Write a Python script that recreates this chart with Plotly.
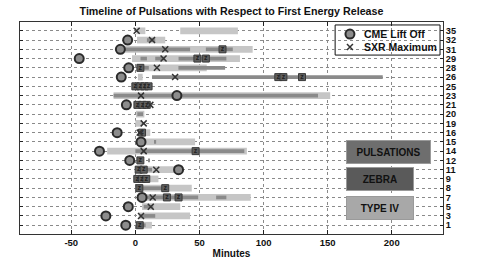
import plotly.graph_objects as go

# ---- categories (events, top to bottom) ----
events = ["35", "32", "31", "29", "28", "26", "25", "23", "21", "20", "19",
          "16", "15", "14", "12", "11", "9", "8", "7", "5", "3", "1"]

# ---- CME lift-off times (minutes) ----
cme_event = ["32", "31", "29", "28", "26", "23", "21", "16", "15", "14", "12", "11", "7", "5", "3", "1"]
cme_time = [-6, -11.7, -43.8, -5.2, -11, 32.4, -7, -14.2, 4.4, -28, -4.4, 33.7, 5.2, -5.5, -23, -7.5]

# ---- SXR maximum times (minutes) ----
sxr_event = ["35", "32", "31", "29", "28", "26", "23", "21", "19", "16", "14", "11", "7", "5", "3"]
sxr_time = [1, 13, 23.3, 22, 16.8, 31, 4.4, 11.7, 6.5, 3.4, 6.5, 16.3, 13.5, 12, 4.4]

# ---- Type IV intervals ----
t4_event = ["35", "35", "32", "31", "29", "28", "26", "23", "20", "19", "16", "15", "14",
            "12", "11", "9", "8", "7", "5", "3", "1"]
t4_start = [0.8, 35, 1.3, -10.4, -2.6, 2, 2, -17, 0.5, 0, 1.9, 5.2, -22,
            2, 1, 0, 0, 5, 5.2, 2.6, 0.8]
t4_end = [7.8, 80, 23.3, 91.5, 81.6, 55.7, 5.7, 152, 7, 5, 11.6, 46.6, 87,
          6, 34.5, 18, 44, 90, 35, 42.7, 12.9]

# ---- Pulsation intervals ----
pu_event = ["32", "31", "31", "29", "29", "29", "28", "28", "26", "25", "23", "21", "20",
            "15", "14", "12", "11", "8", "7", "7", "5", "3", "1"]
pu_start = [9, -10.4, 55, 4, 15.5, 33.7, 2.8, 33.6, 13, -1, -17, 0, 1.5,
            15, 0, 10, 1, 1, 7, 63, 6.5, 3.9, 1.5]
pu_end = [15.5, 42.7, 76, 9, 23.3, 71, 10.5, 70, 193, 11.6, 142.5, 10, 6,
          16.2, 85, 11.2, 13, 24.6, 49, 71, 14, 15.5, 8]

# ---- Zebra pattern times ----
ze_event = ["28", "29", "29", "31", "26", "26", "26", "25", "25", "25", "25", "21", "21", "21",
            "16", "14", "12", "11", "11", "9", "9", "9", "8", "8", "7", "7", "1"]
ze_time = [3.9, 48.4, 55, 68, 111.5, 115.5, 130, 0, 3.9, 7.2, 10.3, 1.6, 5.5, 8.9,
           5.2, 47, 3.9, 2.6, 6.5, 1.5, 5, 8.5, 3.1, 23.3, 24.6, 33.7, 3.4]

# ---- axis ticks ----
x_ticks = [-50, 0, 50, 100, 150, 200]

# ---- legend entries ----
legend_labels = ["CME Lift Off", "SXR Maximum"]

row = {e: i for i, e in enumerate(events)}
FONT = "Liberation Sans, Arial, Helvetica, sans-serif"

fig = go.Figure()

fig.add_trace(go.Bar(
    orientation="h", y=[row[e] for e in t4_event],
    x=[e - s for s, e in zip(t4_start, t4_end)], base=t4_start,
    width=0.72, marker=dict(color="#c6c6c6", line=dict(width=0)),
    showlegend=False, hoverinfo="skip"))

fig.add_trace(go.Bar(
    orientation="h", y=[row[e] for e in pu_event],
    x=[e - s for s, e in zip(pu_start, pu_end)], base=pu_start,
    width=0.4, marker=dict(color="#8a8a8a", line=dict(width=0)),
    showlegend=False, hoverinfo="skip"))

fig.add_trace(go.Scatter(
    x=ze_time, y=[row[e] for e in ze_event], mode="markers+text",
    text=["z"] * len(ze_time), textposition="middle center",
    textfont=dict(family=FONT, size=7, color="#222222", weight="bold"),
    marker=dict(symbol="square", size=7, color="#5e5e5e",
                line=dict(color="#3a3a3a", width=1)),
    showlegend=False, hoverinfo="skip"))

SXR_MARKER = dict(symbol="x-thin", size=6, color="#333333",
                  line=dict(color="#333333", width=1.5))
CME_MARKER = dict(symbol="circle", size=9, color="#8c8c8c",
                  line=dict(color="#2a2a2a", width=2))

fig.add_trace(go.Scatter(
    x=sxr_time, y=[row[e] for e in sxr_event], mode="markers",
    name=legend_labels[1], marker=SXR_MARKER, showlegend=False, hoverinfo="skip"))

fig.add_trace(go.Scatter(
    x=cme_time, y=[row[e] for e in cme_event], mode="markers",
    name=legend_labels[0], marker=CME_MARKER, showlegend=False, hoverinfo="skip"))

# ---- compact legend box (drawn on an overlay 0..1 axis) ----
lg_x0, lg_x1, lg_y0, lg_y1 = 0.745, 0.993, 0.844, 0.986
lg_rows = [0.943, 0.882]
fig.add_shape(type="rect", xref="paper", yref="paper", x0=lg_x0, x1=lg_x1, y0=lg_y0, y1=lg_y1,
              fillcolor="white", line=dict(color="#111111", width=1), layer="between")
fig.add_trace(go.Scatter(x=[0.780], y=[lg_rows[0]], xaxis="x2", yaxis="y2", mode="markers",
                         marker=CME_MARKER, showlegend=False, hoverinfo="skip"))
fig.add_trace(go.Scatter(x=[0.780], y=[lg_rows[1]], xaxis="x2", yaxis="y2", mode="markers",
                         marker=SXR_MARKER, showlegend=False, hoverinfo="skip"))
for lab, yy in zip(legend_labels, lg_rows):
    fig.add_annotation(x=0.808, y=yy, xref="paper", yref="paper", xanchor="left",
                       yanchor="middle", text=lab, showarrow=False,
                       font=dict(family=FONT, size=10.5, color="#111111", weight="bold"))

boxes = [("PULSATIONS", 13.05, 81, "#6e6e6e"),
         ("ZEBRA", 16.05, 64, "#5a5a5a"),
         ("TYPE IV", 19.1, 64, "#a8a8a8")]
for txt, yy, w, col in boxes:
    fig.add_annotation(x=164, y=yy, xref="x", yref="y", xanchor="left", yanchor="middle",
                       text=txt, showarrow=False, width=w, height=20,
                       bgcolor=col, bordercolor="#9a9a9a", borderwidth=1,
                       font=dict(family=FONT, size=10, color="#111111", weight="bold"))

fig.update_layout(
    width=479, height=262,
    margin=dict(l=20, r=36, t=22, b=28),
    paper_bgcolor="white", plot_bgcolor="white",
    barmode="overlay", showlegend=False,
    title=dict(text="Timeline of Pulsations with Respect to First Energy Release",
               x=0.5, xref="paper", y=1 - 11.5 / 262, yref="container",
               xanchor="center", yanchor="middle",
               font=dict(family=FONT, size=10.7, color="#111111", weight="bold")),
    font=dict(family=FONT, color="#111111"),
    xaxis2=dict(overlaying="x", range=[0, 1], visible=False, fixedrange=True),
    yaxis2=dict(overlaying="y", range=[0, 1], visible=False, fixedrange=True),
)

fig.layout.xaxis.update(
    range=[-90, 240], tickvals=x_ticks, ticktext=[str(t) for t in x_ticks],
    ticks="inside", ticklen=4, tickcolor="#222222", mirror="allticks",
    showline=True, linecolor="#333333", linewidth=1, automargin=False,
    showgrid=True, gridcolor="#8a8a8a", griddash="dot", gridwidth=1,
    zeroline=False,
    tickfont=dict(family=FONT, size=9.5, color="#111111", weight="bold"),
    title=dict(text="Minutes", standoff=2,
               font=dict(family=FONT, size=10, color="#111111", weight="bold")),
)

fig.layout.yaxis.update(
    range=[21.95, -0.95], tickvals=list(range(len(events))), ticktext=events,
    side="right", ticks="inside", ticklen=3, tickcolor="#222222", mirror="allticks",
    showline=True, linecolor="#333333", linewidth=1, automargin=False,
    showgrid=True, gridcolor="#8a8a8a", griddash="dot", gridwidth=1,
    zeroline=False,
    tickfont=dict(family=FONT, size=9.2, color="#111111", weight="bold"),
)

fig.write_html("out.html", config={"displayModeBar": False},
               post_script="document.body.style.margin='0';document.body.style.padding='0';")
